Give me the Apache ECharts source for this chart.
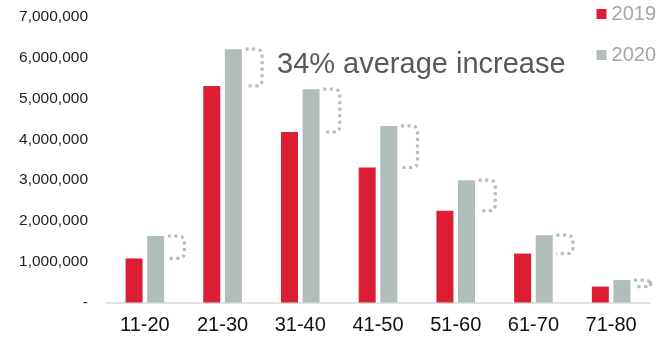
<!DOCTYPE html>
<html>
<head>
<meta charset="utf-8">
<script src="https://cdn.jsdelivr.net/npm/echarts@6/dist/echarts.min.js"></script>
<style>
  html, body { margin: 0; padding: 0; background: #fff; }
  #chart { width: 657px; height: 341px; }
</style>
</head>
<body>
<div id="chart"></div>
<script>
// Age bands on the category axis
const ageBands = ['11-20', '21-30', '31-40', '41-50', '51-60', '61-70', '71-80'];
// Counts per age band, by year
const values2019 = [1080000, 5310000, 4180000, 3310000, 2250000, 1200000, 390000];
const values2020 = [1630000, 6210000, 5230000, 4330000, 3000000, 1650000, 550000];
// Value-axis ticks
const yTicks = [0, 1000000, 2000000, 3000000, 4000000, 5000000, 6000000, 7000000];
const headline = '34% average increase';

const RED = '#dc1e34';
const GREY = '#b1bdb8';
const FONT = '"Liberation Sans", Arial, sans-serif';

function fmtTick(v) {
  if (v === 0) return '-';
  return String(Math.round(v)).replace(/\B(?=(\d{3})+(?!\d))/g, ',');
}

// Bracket from the 2019 top up to the 2020 top, drawn beside each pair
const bracketData = ageBands.map((_, i) => [i, values2020[i], values2019[i]]);

const chart = echarts.init(document.getElementById('chart'), null, { renderer: 'canvas' });
chart.setOption({
  animation: false,
  grid: { left: 106, right: 7, top: 17, bottom: 38.5 },
  legend: {
    data: ['2019', '2020'],
    orient: 'vertical',
    right: 1,
    top: 4,
    padding: 0,
    icon: 'rect',
    itemWidth: 10,
    itemHeight: 10,
    itemGap: 21,
    textStyle: { fontFamily: FONT, fontSize: 20, color: '#a6a6a6' }
  },
  xAxis: {
    type: 'category',
    data: ageBands,
    axisLine: { lineStyle: { color: '#d9d9d9', width: 1.5 } },
    axisTick: { show: false },
    axisLabel: { fontFamily: FONT, fontSize: 20, color: '#111', margin: 13 }
  },
  yAxis: {
    type: 'value',
    min: yTicks[0],
    max: yTicks[yTicks.length - 1],
    interval: yTicks[1] - yTicks[0],
    splitLine: { show: false },
    axisLine: { show: false },
    axisTick: { show: false },
    axisLabel: { fontFamily: FONT, fontSize: 15.5, color: '#222', margin: 18, formatter: fmtTick }
  },
  graphic: [{
    type: 'text',
    left: 277,
    top: 50,
    style: { text: headline, font: '29px ' + FONT, fill: '#595959' }
  }],
  series: [
    {
      name: '2019', type: 'bar', data: values2019,
      barWidth: 17, barGap: '27%',
      itemStyle: { color: RED }
    },
    {
      name: '2020', type: 'bar', data: values2020,
      barWidth: 17,
      itemStyle: { color: GREY }
    },
    {
      name: 'increase', type: 'custom', data: bracketData,
      silent: true,
      renderItem: function (params, api) {
        const top = api.coord([api.value(0), api.value(1)]);
        const bot = api.coord([api.value(0), api.value(2)]);
        const x0 = top[0] + 23;
        const x1 = top[0] + 39.5;
        const r = 6;
        const path = 'M' + x0 + ',' + top[1] +
          ' L' + (x1 - r) + ',' + top[1] +
          ' Q' + x1 + ',' + top[1] + ' ' + x1 + ',' + (top[1] + r) +
          ' L' + x1 + ',' + (bot[1] - r) +
          ' Q' + x1 + ',' + bot[1] + ' ' + (x1 - r) + ',' + bot[1] +
          ' L' + x0 + ',' + bot[1];
        return {
          type: 'path',
          shape: { pathData: path },
          style: { fill: null, stroke: GREY, lineWidth: 3.2, lineDash: [3, 3.5] }
        };
      }
    }
  ]
});
</script>
</body>
</html>
